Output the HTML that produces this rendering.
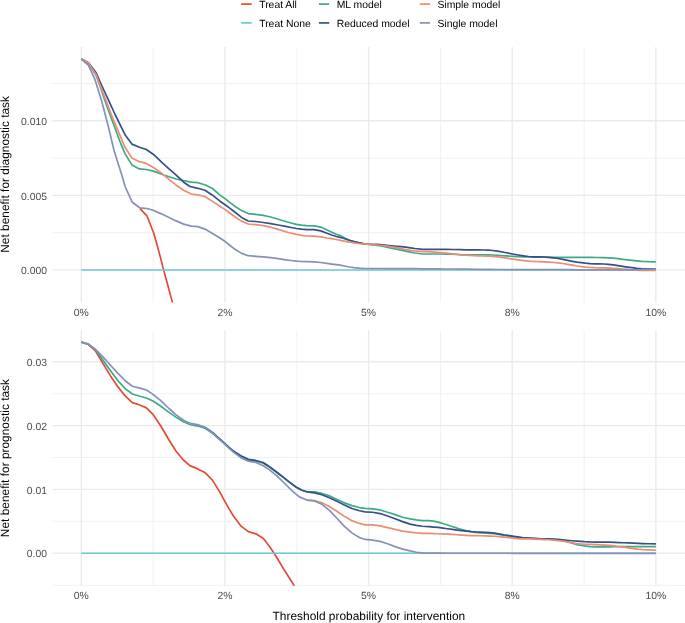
<!DOCTYPE html>
<html><head><meta charset="utf-8"><title>Decision curve analysis</title>
<style>html,body{margin:0;padding:0;background:#fff}body{width:685px;height:623px;overflow:hidden}</style></head>
<body>
<svg width="685" height="623" viewBox="0 0 685 623" style="display:block" text-rendering="geometricPrecision" font-family="'Liberation Sans', Arial, sans-serif">
<defs><clipPath id="c1"><rect x="52.4" y="47.0" width="632.6" height="255.6"/></clipPath><clipPath id="c2"><rect x="52.4" y="330.3" width="632.6" height="255.5"/></clipPath></defs>
<rect width="685" height="623" fill="#fff"/>
<g stroke="#EFEFEF" stroke-width="0.85"><line x1="153.1" x2="153.1" y1="47.0" y2="302.6"/><line x1="296.8" x2="296.8" y1="47.0" y2="302.6"/><line x1="440.4" x2="440.4" y1="47.0" y2="302.6"/><line x1="584.1" x2="584.1" y1="47.0" y2="302.6"/><line x1="52.4" x2="685.0" y1="232.7" y2="232.7"/><line x1="52.4" x2="685.0" y1="158.1" y2="158.1"/><line x1="52.4" x2="685.0" y1="83.5" y2="83.5"/></g>
<g stroke="#EBEBEB" stroke-width="1.4"><line x1="81.3" x2="81.3" y1="47.0" y2="302.6"/><line x1="224.9" x2="224.9" y1="47.0" y2="302.6"/><line x1="368.6" x2="368.6" y1="47.0" y2="302.6"/><line x1="512.2" x2="512.2" y1="47.0" y2="302.6"/><line x1="655.9" x2="655.9" y1="47.0" y2="302.6"/><line x1="52.4" x2="685.0" y1="269.9" y2="269.9"/><line x1="52.4" x2="685.0" y1="195.4" y2="195.4"/><line x1="52.4" x2="685.0" y1="120.8" y2="120.8"/></g>

<g stroke="#EFEFEF" stroke-width="0.85"><line x1="153.1" x2="153.1" y1="330.3" y2="585.8"/><line x1="296.8" x2="296.8" y1="330.3" y2="585.8"/><line x1="440.4" x2="440.4" y1="330.3" y2="585.8"/><line x1="584.1" x2="584.1" y1="330.3" y2="585.8"/><line x1="52.4" x2="685.0" y1="521.3" y2="521.3"/><line x1="52.4" x2="685.0" y1="457.5" y2="457.5"/><line x1="52.4" x2="685.0" y1="393.7" y2="393.7"/></g>
<g stroke="#EBEBEB" stroke-width="1.4"><line x1="81.3" x2="81.3" y1="330.3" y2="585.8"/><line x1="224.9" x2="224.9" y1="330.3" y2="585.8"/><line x1="368.6" x2="368.6" y1="330.3" y2="585.8"/><line x1="512.2" x2="512.2" y1="330.3" y2="585.8"/><line x1="655.9" x2="655.9" y1="330.3" y2="585.8"/><line x1="52.4" x2="685.0" y1="553.2" y2="553.2"/><line x1="52.4" x2="685.0" y1="489.4" y2="489.4"/><line x1="52.4" x2="685.0" y1="425.6" y2="425.6"/><line x1="52.4" x2="685.0" y1="361.8" y2="361.8"/></g>

<g clip-path="url(#c2)"><line x1="52.4" x2="685.0" y1="585.4" y2="585.4" stroke="#EBEBEB" stroke-width="0.85"/></g>
<g clip-path="url(#c1)"><g transform="translate(0,0.2)" fill="none" stroke-width="1.7" stroke-linejoin="round" stroke-opacity="1.0">
<path stroke="#E44A36" d="M139.8 208.1L146.9 215.6L153.6 232.6L158.6 250.2L163.6 269.7L168.0 285.8L172.4 302.2L180.0 332.0"/>
<path stroke="#6AC9D8" d="M81.3 269.8L655.9 269.8"/>
<path stroke="#3DAA87" d="M81.3 58.8L88.5 63.0L96.1 75.1L99.6 84.8L104.8 99.9L110.1 114.8L114.3 126.1L119.7 140.6L125.0 153.4L131.9 164.7L139.4 168.7L146.3 169.3L153.2 170.9L157.5 172.4L161.8 174.1L169.0 176.6L176.2 178.8L183.7 180.5L191.2 182.0L197.9 182.5L204.9 184.6L212.5 188.3L220.0 194.9L224.7 198.2L229.4 201.9L234.1 205.5L241.6 210.4L248.2 213.4L255.7 214.2L263.2 215.1L270.7 216.8L278.2 219.1L285.7 221.3L291.0 222.8L296.4 224.1L301.4 224.9L306.5 225.4L314.0 225.6L320.8 226.9L327.0 229.8L331.7 232.0L336.4 234.1L340.0 235.4L344.7 237.8L349.4 240.1L354.1 241.7L358.8 242.9L363.6 243.6L368.5 244.2L373.0 244.7L377.5 245.2L382.2 246.0L386.9 247.0L391.6 248.0L396.3 249.0L401.0 250.0L405.7 251.0L410.4 252.0L415.0 252.8L422.6 253.8L428.5 253.8L434.5 253.8L440.4 253.8L446.5 253.9L452.6 254.0L457.3 254.3L462.0 254.6L468.6 254.6L475.1 254.7L481.6 254.7L488.2 254.7L492.9 254.8L497.5 255.1L505.1 255.6L512.6 256.1L518.2 256.4L523.8 256.6L530.7 256.8L537.6 256.9L544.5 257.0L552.4 257.1L560.4 257.1L568.3 257.1L576.3 257.2L584.2 257.2L590.8 257.2L597.3 257.3L603.9 257.4L608.6 257.6L613.3 257.9L618.0 258.4L622.7 259.1L627.4 259.7L632.1 260.2L636.8 260.7L641.5 261.1L648.7 261.5L655.9 261.7"/>
<path stroke="#36508A" d="M81.3 58.8L88.5 62.6L96.1 72.6L101.5 84.8L108.5 99.9L115.3 114.8L121.8 128.0L125.0 134.5L131.9 143.9L139.4 147.1L146.3 149.3L153.2 154.0L157.5 157.9L161.8 162.1L169.0 168.6L176.2 175.0L183.7 182.0L189.9 186.3L197.9 188.1L204.9 190.1L212.5 195.0L220.0 201.0L224.7 204.3L229.4 207.7L234.1 211.3L241.6 217.2L248.2 220.8L255.7 221.3L263.2 222.3L270.7 223.5L278.2 224.8L285.7 226.2L291.0 227.3L296.4 228.3L301.4 229.0L306.5 229.4L314.0 229.4L320.8 230.7L327.0 233.1L331.7 234.8L336.4 236.3L340.0 237.1L344.7 238.6L349.4 240.1L354.1 241.4L358.8 242.5L363.6 243.4L368.5 243.9L373.0 244.1L377.5 244.2L382.2 244.6L386.9 245.2L391.6 245.7L396.3 246.1L401.0 246.5L405.7 247.0L410.4 247.6L415.0 248.3L422.6 249.1L428.5 249.1L434.5 249.1L440.4 249.1L446.5 249.2L452.6 249.3L460.0 249.5L466.3 249.6L472.5 249.6L478.8 249.7L483.5 249.8L488.2 249.9L492.9 250.3L497.5 251.0L505.1 252.3L512.6 253.8L518.2 254.8L523.8 255.7L528.5 256.3L533.2 256.6L538.9 256.7L544.5 256.8L549.1 257.1L553.8 257.6L558.2 258.3L562.9 259.2L567.6 260.2L572.3 261.1L577.0 261.9L585.4 263.0L590.0 263.4L594.5 263.6L599.2 263.7L603.9 263.8L608.6 264.2L613.3 264.7L618.0 265.4L622.7 266.2L627.4 266.9L632.1 267.5L636.8 268.1L641.5 268.5L648.7 268.7L655.9 268.8"/>
<path stroke="#EA8D72" d="M81.3 58.8L88.5 62.9L96.1 74.5L100.0 84.8L105.8 99.9L111.5 114.8L116.8 127.6L125.0 147.1L131.9 157.8L139.4 161.5L146.3 163.2L153.2 167.2L157.5 170.1L161.8 173.2L169.0 179.1L176.2 185.0L183.7 190.0L191.2 193.8L197.9 194.6L204.9 196.3L212.5 201.2L220.0 206.0L224.7 209.2L229.4 212.6L234.1 216.0L241.6 220.9L248.2 223.8L255.7 224.5L263.2 225.4L270.7 227.0L278.2 229.2L285.7 231.5L291.0 233.0L296.4 234.2L301.4 235.2L306.5 235.8L314.0 236.0L320.8 236.7L327.0 237.8L331.7 238.5L336.4 239.3L342.9 240.7L349.4 242.0L354.1 242.7L358.8 243.3L363.6 243.7L368.5 244.0L373.0 244.4L377.5 244.8L382.2 245.3L386.9 245.9L391.6 246.7L396.3 247.5L401.0 248.4L405.7 249.3L410.4 250.1L415.0 250.7L422.6 251.4L427.3 251.5L432.0 251.7L440.4 252.5L446.5 253.0L452.6 253.6L457.3 254.1L462.0 254.6L469.4 255.1L474.1 255.4L478.8 255.7L483.5 255.8L488.2 255.9L492.9 256.2L497.5 256.6L505.1 257.7L512.6 258.9L518.2 259.7L523.8 260.4L528.5 260.9L533.2 261.3L538.9 261.5L544.5 261.7L549.1 262.0L553.8 262.3L558.2 262.6L562.9 263.3L567.6 264.1L572.3 265.0L577.0 265.8L585.4 267.0L590.0 267.3L594.5 267.5L599.2 267.6L603.9 267.7L608.6 267.9L613.3 268.1L618.0 268.4L622.7 268.8L627.4 269.2L632.1 269.6L636.8 269.9L641.5 270.1L648.7 270.2L655.9 270.3"/>
<path stroke="#8491B8" d="M81.3 59.0L88.5 65.1L95.0 79.5L101.5 100.2L108.4 126.6L114.0 150.0L118.4 164.2L122.8 178.0L125.1 186.3L132.3 202.1L139.8 207.6L146.9 208.3L153.1 210.1L160.8 213.4L168.6 217.1L176.1 220.7L183.7 223.9L191.2 225.9L197.9 226.4L204.9 228.9L212.5 233.4L220.0 237.8L224.7 241.0L229.4 244.8L234.1 248.5L241.6 253.2L248.2 255.5L255.7 256.1L263.2 256.6L270.7 257.4L278.2 258.5L285.7 259.6L291.0 260.3L296.4 260.9L301.4 261.3L306.5 261.5L314.0 261.7L320.8 262.3L327.0 263.2L331.7 263.9L336.4 264.5L340.0 264.9L344.7 265.8L349.4 266.8L354.1 267.5L358.8 267.9L363.6 268.2L368.5 268.3L376.4 268.3L384.2 268.4L392.1 268.4L400.0 268.4L407.5 268.4L415.0 268.5L422.5 268.6L430.0 268.6L437.5 268.7L445.0 268.8L452.5 268.8L460.0 268.9L467.5 269.0L475.0 269.1L482.5 269.1L490.0 269.2L497.5 269.3L505.0 269.4L512.5 269.4L520.0 269.4L528.0 269.5L536.0 269.5L544.0 269.5L552.0 269.5L560.0 269.5L568.0 269.5L576.0 269.6L584.0 269.6L592.0 269.6L600.0 269.6L608.0 269.6L616.0 269.6L624.0 269.6L632.0 269.6L640.0 269.5L647.9 269.2L655.9 268.9"/>
</g></g>

<g clip-path="url(#c2)"><g transform="translate(0,0.25)" fill="none" stroke-width="1.7" stroke-linejoin="round" stroke-opacity="1.0">
<path stroke="#E44A36" d="M81.3 341.9L88.5 344.3L95.7 351.0L103.2 363.5L110.7 375.9L118.2 386.9L125.2 395.7L132.3 402.4L139.8 404.8L146.4 407.6L153.0 414.2L160.5 425.3L168.7 439.2L176.1 451.0L183.6 460.0L190.3 465.6L197.3 468.4L204.8 472.2L212.2 479.6L219.7 491.6L224.7 500.8L229.1 508.6L233.4 515.7L240.8 525.6L248.3 531.4L255.8 533.6L263.2 538.1L269.5 546.3L274.4 553.5L279.0 561.0L283.6 568.6L288.9 577.0L294.2 585.4L300.5 595.3"/>
<path stroke="#6AC9D8" d="M81.3 553.0L655.9 553.0"/>
<path stroke="#3DAA87" d="M81.3 341.9L88.5 343.9L95.7 349.7L103.2 360.2L110.7 370.7L118.2 380.7L125.2 388.4L132.3 393.8L139.8 396.0L146.4 397.7L153.0 400.7L160.5 405.8L168.0 411.4L175.5 416.6L183.0 421.3L190.5 424.5L198.0 425.8L204.8 427.9L212.2 432.8L219.7 439.0L224.7 443.6L229.1 447.6L233.4 451.2L240.8 456.0L248.3 459.6L255.8 460.8L263.2 463.0L269.5 466.9L276.9 472.2L284.4 477.9L290.0 482.3L296.6 487.1L301.8 489.8L306.9 491.3L314.4 491.7L321.9 493.2L329.4 495.6L336.9 499.2L344.4 502.6L351.9 505.4L359.4 507.3L365.1 508.2L372.6 508.6L380.1 509.7L387.6 512.0L395.1 514.4L402.6 517.0L410.1 518.6L416.2 519.7L422.3 520.3L428.8 520.4L433.5 520.9L438.2 521.9L442.9 523.2L447.5 524.7L452.2 526.3L456.9 527.9L461.6 529.2L466.3 530.4L471.0 531.4L475.7 532.2L480.4 532.7L485.1 533.0L489.8 533.2L494.5 533.5L499.1 534.2L503.8 535.1L512.3 536.4L517.5 537.3L522.6 537.9L530.0 538.2L534.7 538.5L539.4 538.7L544.1 538.8L548.8 538.9L553.5 539.2L558.2 539.6L562.9 540.4L567.5 541.6L572.2 543.0L576.9 544.4L584.4 545.7L590.0 546.3L595.7 546.6L600.4 546.6L605.1 546.6L609.8 546.6L614.5 546.5L619.1 546.4L623.8 546.3L630.1 546.3L636.3 546.3L642.6 546.3L649.2 546.3L655.9 546.3"/>
<path stroke="#36508A" d="M204.8 426.9L212.2 432.0L219.7 438.6L224.7 443.2L229.1 447.2L233.4 450.8L240.8 455.4L248.3 459.1L255.8 460.2L263.2 462.3L269.5 466.5L276.9 472.0L284.4 477.9L290.0 482.3L296.6 487.3L301.8 490.0L306.9 491.7L314.4 492.6L321.9 494.5L329.4 497.5L336.9 501.1L344.4 504.8L351.9 508.2L359.4 510.5L365.1 511.6L372.6 512.0L380.1 513.3L387.6 515.7L395.1 518.5L402.6 521.4L410.1 523.9L416.2 525.2L422.3 526.0L428.8 526.4L433.5 526.8L438.2 527.2L442.9 527.8L447.5 528.5L452.2 529.2L456.9 529.8L461.6 530.4L466.3 530.9L471.0 531.4L475.7 531.7L480.4 531.8L485.1 532.0L489.8 532.3L494.5 532.8L499.1 533.6L503.8 534.5L512.3 535.8L517.5 536.6L522.6 537.3L530.0 537.8L534.7 538.1L539.4 538.4L544.1 538.5L548.8 538.6L553.5 538.8L558.2 539.1L562.9 539.6L567.5 540.1L572.2 540.5L576.9 540.8L584.4 541.4L590.0 541.7L595.7 541.8L600.4 541.8L605.1 541.8L609.8 541.9L614.5 542.1L619.1 542.3L623.8 542.5L628.5 542.7L633.2 542.9L637.9 543.1L642.6 543.3L649.2 543.5L655.9 543.6"/>
<path stroke="#EA8D72" d="M306.9 499.8L314.4 500.3L321.9 502.6L329.4 506.3L336.9 511.0L344.4 516.1L351.9 520.4L359.4 523.2L365.1 524.6L372.6 524.7L380.1 525.7L387.6 527.4L395.1 529.2L402.6 530.8L410.1 531.9L416.2 532.6L422.3 533.1L428.8 533.2L433.5 533.3L438.2 533.5L442.9 533.7L447.5 533.9L452.2 534.2L456.9 534.5L461.6 534.8L466.3 535.1L471.0 535.3L475.7 535.4L480.4 535.5L485.1 535.6L489.8 535.8L494.5 536.0L499.1 536.4L503.8 536.9L512.3 537.7L517.5 538.3L522.6 538.6L530.0 538.6L534.7 538.8L539.4 539.1L544.1 539.3L548.8 539.5L553.5 539.8L558.2 540.3L562.9 540.9L567.5 541.6L572.2 542.5L576.9 543.3L584.4 544.0L590.0 544.2L595.7 544.4L600.4 544.6L605.1 544.8L609.8 545.2L614.5 545.7L619.1 546.3L623.8 547.0L628.5 547.7L633.2 548.3L637.9 548.9L642.6 549.3L649.2 549.7L655.9 550.0"/>
<path stroke="#8491B8" d="M81.3 341.9L88.5 343.9L95.7 349.3L103.2 356.9L110.7 365.2L118.2 373.4L125.2 380.5L132.3 386.0L139.8 387.9L146.4 389.8L153.0 394.1L160.5 400.1L168.7 408.0L176.1 414.6L183.6 420.0L190.3 423.2L197.3 424.4L204.8 426.9L212.2 432.3L219.7 439.3L224.7 443.9L229.1 448.0L233.4 451.9L240.8 457.4L248.3 461.0L255.8 462.2L263.2 465.5L269.5 469.6L276.9 475.7L284.4 483.0L291.9 490.4L299.3 496.6L306.9 499.8L314.4 500.7L321.9 504.1L329.4 510.1L336.9 518.0L344.4 526.1L351.9 532.6L359.4 537.3L365.1 539.2L372.6 539.8L380.1 541.1L387.6 543.5L395.1 546.4L402.6 548.9L410.1 550.7L416.5 552.0L424.0 552.9L432.3 552.9L440.6 552.9L448.8 553.0L457.1 553.0L465.4 553.0L473.7 553.0L482.0 553.0L490.3 553.0L498.5 553.0L506.8 553.0L515.1 553.1L523.4 553.1L531.7 553.1L539.9 553.1L548.2 553.1L556.5 553.1L564.8 553.1L573.1 553.1L581.4 553.1L589.6 553.1L597.9 553.1L606.2 553.1L614.5 553.1L622.8 553.1L631.1 553.1L639.3 553.1L647.6 553.1L655.9 553.1"/>
</g></g>

<g font-size="10.4" fill="#4D4D4D" text-anchor="end">
<text x="47.0" y="274.1">0.000</text>
<text x="47.0" y="199.6">0.005</text>
<text x="47.0" y="125.0">0.010</text>
<text x="47.0" y="557.4">0.00</text>
<text x="47.0" y="493.6">0.01</text>
<text x="47.0" y="429.8">0.02</text>
<text x="47.0" y="365.9">0.03</text>
</g>
<g font-size="10.4" fill="#4D4D4D" text-anchor="middle">
<text x="81.3" y="316.4">0%</text>
<text x="224.9" y="316.4">2%</text>
<text x="368.6" y="316.4">5%</text>
<text x="512.2" y="316.4">8%</text>
<text x="655.9" y="316.4">10%</text>
<text x="81.3" y="599.4">0%</text>
<text x="224.9" y="599.4">2%</text>
<text x="368.6" y="599.4">5%</text>
<text x="512.2" y="599.4">8%</text>
<text x="655.9" y="599.4">10%</text>
</g>
<g font-size="11.92" fill="#000" text-anchor="middle">
<text x="368.9" y="620.2">Threshold probability for intervention</text>
<text transform="translate(9.1,174.4) rotate(-90)">Net benefit for diagnostic task</text>
<text transform="translate(9.1,458.1) rotate(-90)">Net benefit for prognostic task</text>
</g>
<g font-size="10.4" fill="#000">
<line x1="241.1" x2="251.7" y1="4.1" y2="4.1" stroke="#E44A36" stroke-width="1.7" stroke-opacity="1.0"/>
<text x="259.2" y="7.8">Treat All</text>
<line x1="241.1" x2="251.7" y1="22.9" y2="22.9" stroke="#6AC9D8" stroke-width="1.7" stroke-opacity="1.0"/>
<text x="259.2" y="26.6">Treat None</text>
<line x1="318.9" x2="329.2" y1="4.1" y2="4.1" stroke="#3DAA87" stroke-width="1.7" stroke-opacity="1.0"/>
<text x="336.7" y="7.8">ML model</text>
<line x1="318.9" x2="329.2" y1="22.9" y2="22.9" stroke="#36508A" stroke-width="1.7" stroke-opacity="1.0"/>
<text x="336.7" y="26.6">Reduced model</text>
<line x1="419.8" x2="430.1" y1="4.1" y2="4.1" stroke="#EA8D72" stroke-width="1.7" stroke-opacity="1.0"/>
<text x="437.4" y="7.8">Simple model</text>
<line x1="419.8" x2="430.1" y1="22.9" y2="22.9" stroke="#8491B8" stroke-width="1.7" stroke-opacity="1.0"/>
<text x="437.4" y="26.6">Single model</text>
</g>
</svg>
</body></html>
